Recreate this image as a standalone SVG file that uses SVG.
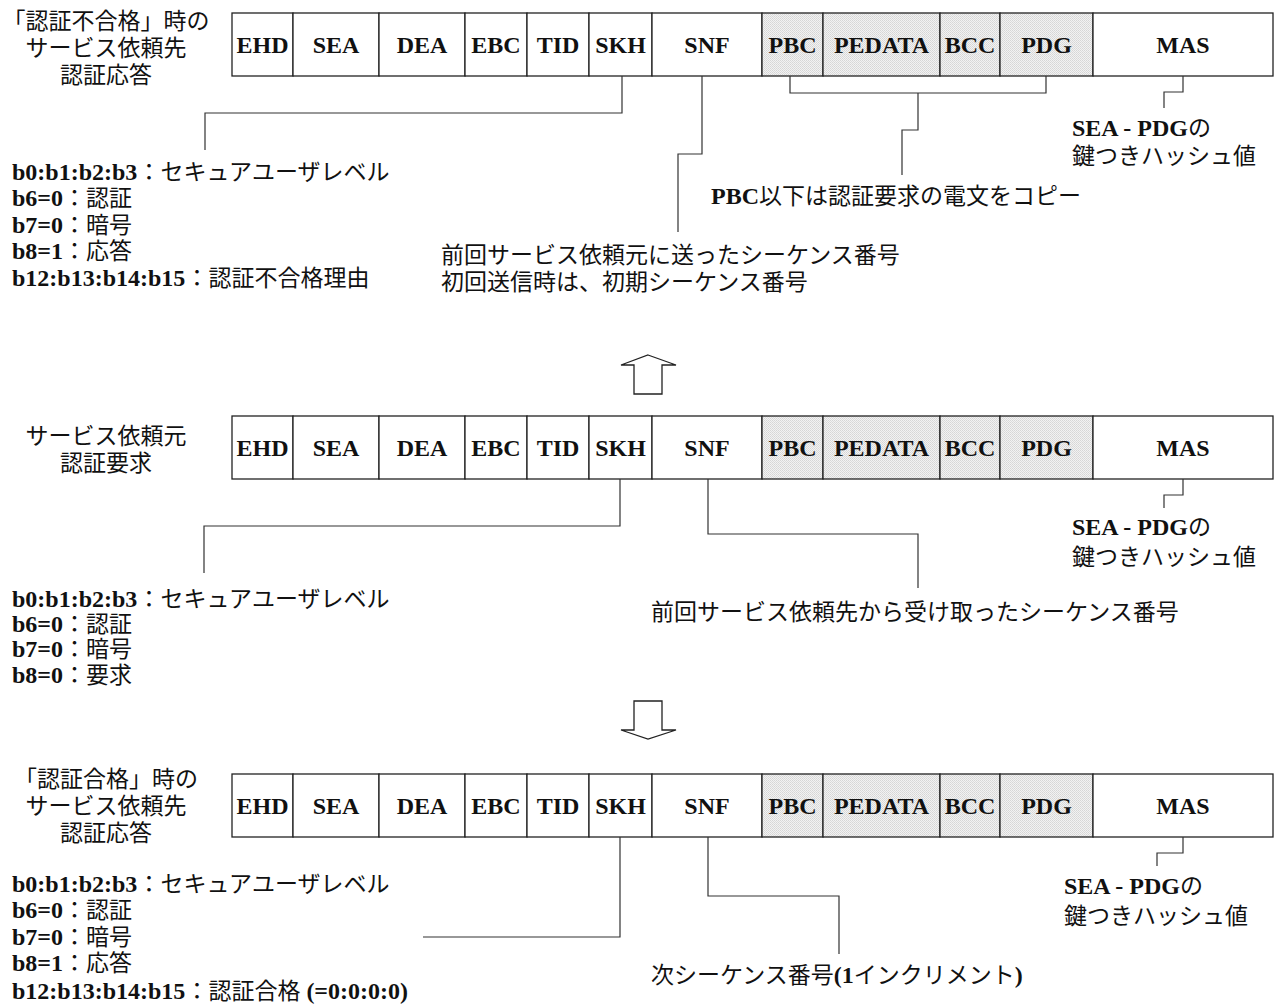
<svg xmlns="http://www.w3.org/2000/svg" width="1275" height="1005" viewBox="0 0 1275 1005">
<defs>
<pattern id="dots" width="2" height="2" patternUnits="userSpaceOnUse">
<rect width="2" height="2" fill="#f2f2f2"/>
<rect width="1" height="1" fill="#d6d6d6"/>
<rect x="1" y="1" width="1" height="1" fill="#dcdcdc"/>
</pattern>
<style>
.cellbox{fill:#fff;stroke:#222;stroke-width:1.3}
.shade{fill:url(#dots);stroke:#222;stroke-width:1.3}
.ct{font-family:"Liberation Serif",serif;font-weight:bold;font-size:24px;text-anchor:middle;fill:#111}
.mid{text-anchor:middle}
.mx{font-family:"Liberation Serif","Noto Sans CJK JP",sans-serif;font-size:23px;fill:#111}
.b{font-family:"Liberation Serif",serif;font-weight:bold;font-size:24px}
.conn{fill:none;stroke:#333;stroke-width:1.2}
.arr{fill:#fff;stroke:#222;stroke-width:1.3}
</style>
</defs>
<rect width="1275" height="1005" fill="#fff"/>

<!-- Row 1 -->
<g id="row1-label">
<text class="mx mid" x="106" y="29">「認証不合格」時の</text>
<text class="mx mid" x="106" y="56">サービス依頼先</text>
<text class="mx mid" x="106" y="83">認証応答</text>
</g>
<g id="row1">
<g id="r1-EHD"><rect class="cellbox" x="232" y="13" width="61" height="63"/><text class="ct" x="262.5" y="53">EHD</text></g>
<g id="r1-SEA"><rect class="cellbox" x="293" y="13" width="86" height="63"/><text class="ct" x="336" y="53">SEA</text></g>
<g id="r1-DEA"><rect class="cellbox" x="379" y="13" width="86" height="63"/><text class="ct" x="422" y="53">DEA</text></g>
<g id="r1-EBC"><rect class="cellbox" x="465" y="13" width="62" height="63"/><text class="ct" x="496" y="53">EBC</text></g>
<g id="r1-TID"><rect class="cellbox" x="527" y="13" width="62" height="63"/><text class="ct" x="558" y="53">TID</text></g>
<g id="r1-SKH"><rect class="cellbox" x="589" y="13" width="63" height="63"/><text class="ct" x="620.5" y="53">SKH</text></g>
<g id="r1-SNF"><rect class="cellbox" x="652" y="13" width="110" height="63"/><text class="ct" x="707" y="53">SNF</text></g>
<g id="r1-PBC"><rect class="shade" x="762" y="13" width="61" height="63"/><text class="ct" x="792.5" y="53">PBC</text></g>
<g id="r1-PEDATA"><rect class="shade" x="823" y="13" width="117" height="63"/><text class="ct" x="881.5" y="53">PEDATA</text></g>
<g id="r1-BCC"><rect class="shade" x="940" y="13" width="60" height="63"/><text class="ct" x="970" y="53">BCC</text></g>
<g id="r1-PDG"><rect class="shade" x="1000" y="13" width="93" height="63"/><text class="ct" x="1046.5" y="53">PDG</text></g>
<g id="r1-MAS"><rect class="cellbox" x="1093" y="13" width="180" height="63"/><text class="ct" x="1183" y="53">MAS</text></g>
</g>
<g id="row1-notes">
<text class="mx" x="12" y="180"><tspan class="b">b0:b1:b2:b3</tspan>：セキュアユーザレベル</text>
<text class="mx" x="12" y="206"><tspan class="b">b6=0</tspan>：認証</text>
<text class="mx" x="12" y="233"><tspan class="b">b7=0</tspan>：暗号</text>
<text class="mx" x="12" y="259"><tspan class="b">b8=1</tspan>：応答</text>
<text class="mx" x="12" y="286"><tspan class="b">b12:b13:b14:b15</tspan>：認証不合格理由</text>
<text class="mx" x="441" y="263">前回サービス依頼元に送ったシーケンス番号</text>
<text class="mx" x="441" y="290">初回送信時は、初期シーケンス番号</text>
<text class="mx" x="711" y="204"><tspan class="b">PBC</tspan>以下は認証要求の電文をコピー</text>
<text class="mx" x="1072" y="136"><tspan class="b">SEA - PDG</tspan>の</text>
<text class="mx" x="1072" y="164">鍵つきハッシュ値</text>
</g>

<!-- Arrows -->
<g id="arrow-up"><path class="arr" d="M648,355 L676,365 L662,365 L662,394 L634,394 L634,365 L621,365 Z"/></g>
<g id="arrow-down"><path class="arr" d="M634,701 L662,701 L662,730 L676,730 L648,739 L621,730 L634,730 Z"/></g>

<!-- Row 2 -->
<g id="row2-label">
<text class="mx mid" x="106" y="444">サービス依頼元</text>
<text class="mx mid" x="106" y="471">認証要求</text>
</g>
<g id="row2">
<g id="r2-EHD"><rect class="cellbox" x="232" y="416" width="61" height="63"/><text class="ct" x="262.5" y="456">EHD</text></g>
<g id="r2-SEA"><rect class="cellbox" x="293" y="416" width="86" height="63"/><text class="ct" x="336" y="456">SEA</text></g>
<g id="r2-DEA"><rect class="cellbox" x="379" y="416" width="86" height="63"/><text class="ct" x="422" y="456">DEA</text></g>
<g id="r2-EBC"><rect class="cellbox" x="465" y="416" width="62" height="63"/><text class="ct" x="496" y="456">EBC</text></g>
<g id="r2-TID"><rect class="cellbox" x="527" y="416" width="62" height="63"/><text class="ct" x="558" y="456">TID</text></g>
<g id="r2-SKH"><rect class="cellbox" x="589" y="416" width="63" height="63"/><text class="ct" x="620.5" y="456">SKH</text></g>
<g id="r2-SNF"><rect class="cellbox" x="652" y="416" width="110" height="63"/><text class="ct" x="707" y="456">SNF</text></g>
<g id="r2-PBC"><rect class="shade" x="762" y="416" width="61" height="63"/><text class="ct" x="792.5" y="456">PBC</text></g>
<g id="r2-PEDATA"><rect class="shade" x="823" y="416" width="117" height="63"/><text class="ct" x="881.5" y="456">PEDATA</text></g>
<g id="r2-BCC"><rect class="shade" x="940" y="416" width="60" height="63"/><text class="ct" x="970" y="456">BCC</text></g>
<g id="r2-PDG"><rect class="shade" x="1000" y="416" width="93" height="63"/><text class="ct" x="1046.5" y="456">PDG</text></g>
<g id="r2-MAS"><rect class="cellbox" x="1093" y="416" width="180" height="63"/><text class="ct" x="1183" y="456">MAS</text></g>
</g>
<g id="row2-notes">
<text class="mx" x="12" y="607"><tspan class="b">b0:b1:b2:b3</tspan>：セキュアユーザレベル</text>
<text class="mx" x="12" y="632"><tspan class="b">b6=0</tspan>：認証</text>
<text class="mx" x="12" y="657"><tspan class="b">b7=0</tspan>：暗号</text>
<text class="mx" x="12" y="683"><tspan class="b">b8=0</tspan>：要求</text>
<text class="mx" x="651" y="620">前回サービス依頼先から受け取ったシーケンス番号</text>
<text class="mx" x="1072" y="535"><tspan class="b">SEA - PDG</tspan>の</text>
<text class="mx" x="1072" y="565">鍵つきハッシュ値</text>
</g>

<!-- Row 3 -->
<g id="row3-label">
<text class="mx mid" x="106" y="787">「認証合格」時の</text>
<text class="mx mid" x="106" y="814">サービス依頼先</text>
<text class="mx mid" x="106" y="841">認証応答</text>
</g>
<g id="row3">
<g id="r3-EHD"><rect class="cellbox" x="232" y="774" width="61" height="63"/><text class="ct" x="262.5" y="814">EHD</text></g>
<g id="r3-SEA"><rect class="cellbox" x="293" y="774" width="86" height="63"/><text class="ct" x="336" y="814">SEA</text></g>
<g id="r3-DEA"><rect class="cellbox" x="379" y="774" width="86" height="63"/><text class="ct" x="422" y="814">DEA</text></g>
<g id="r3-EBC"><rect class="cellbox" x="465" y="774" width="62" height="63"/><text class="ct" x="496" y="814">EBC</text></g>
<g id="r3-TID"><rect class="cellbox" x="527" y="774" width="62" height="63"/><text class="ct" x="558" y="814">TID</text></g>
<g id="r3-SKH"><rect class="cellbox" x="589" y="774" width="63" height="63"/><text class="ct" x="620.5" y="814">SKH</text></g>
<g id="r3-SNF"><rect class="cellbox" x="652" y="774" width="110" height="63"/><text class="ct" x="707" y="814">SNF</text></g>
<g id="r3-PBC"><rect class="shade" x="762" y="774" width="61" height="63"/><text class="ct" x="792.5" y="814">PBC</text></g>
<g id="r3-PEDATA"><rect class="shade" x="823" y="774" width="117" height="63"/><text class="ct" x="881.5" y="814">PEDATA</text></g>
<g id="r3-BCC"><rect class="shade" x="940" y="774" width="60" height="63"/><text class="ct" x="970" y="814">BCC</text></g>
<g id="r3-PDG"><rect class="shade" x="1000" y="774" width="93" height="63"/><text class="ct" x="1046.5" y="814">PDG</text></g>
<g id="r3-MAS"><rect class="cellbox" x="1093" y="774" width="180" height="63"/><text class="ct" x="1183" y="814">MAS</text></g>
</g>
<g id="row3-notes">
<text class="mx" x="12" y="892"><tspan class="b">b0:b1:b2:b3</tspan>：セキュアユーザレベル</text>
<text class="mx" x="12" y="918"><tspan class="b">b6=0</tspan>：認証</text>
<text class="mx" x="12" y="945"><tspan class="b">b7=0</tspan>：暗号</text>
<text class="mx" x="12" y="971"><tspan class="b">b8=1</tspan>：応答</text>
<text class="mx" x="12" y="999"><tspan class="b">b12:b13:b14:b15</tspan>：認証合格<tspan class="b"> (=0:0:0:0)</tspan></text>
<text class="mx" x="651" y="983">次シーケンス番号<tspan class="b">(1</tspan>インクリメント<tspan class="b">)</tspan></text>
<text class="mx" x="1064" y="894"><tspan class="b">SEA - PDG</tspan>の</text>
<text class="mx" x="1064" y="924">鍵つきハッシュ値</text>
</g>

<g id="connectors">
<path class="conn" d="M622,76 V113 H205 V150"/>
<path class="conn" d="M702,76 V154 H678 V232"/>
<path class="conn" d="M790,76 V93 H1046 V76"/>
<path class="conn" d="M918,93 V130 H902 V175"/>
<path class="conn" d="M1183,76 V92 H1164 V108"/>
<path class="conn" d="M620,479 V526 H204 V573"/>
<path class="conn" d="M708,479 V534 H918 V588"/>
<path class="conn" d="M1183,479 V495 H1164 V508"/>
<path class="conn" d="M620,837 V937 H423"/>
<path class="conn" d="M708,837 V896 H839 V954"/>
<path class="conn" d="M1183,837 V853 H1157 V866"/>
</g>
</svg>
